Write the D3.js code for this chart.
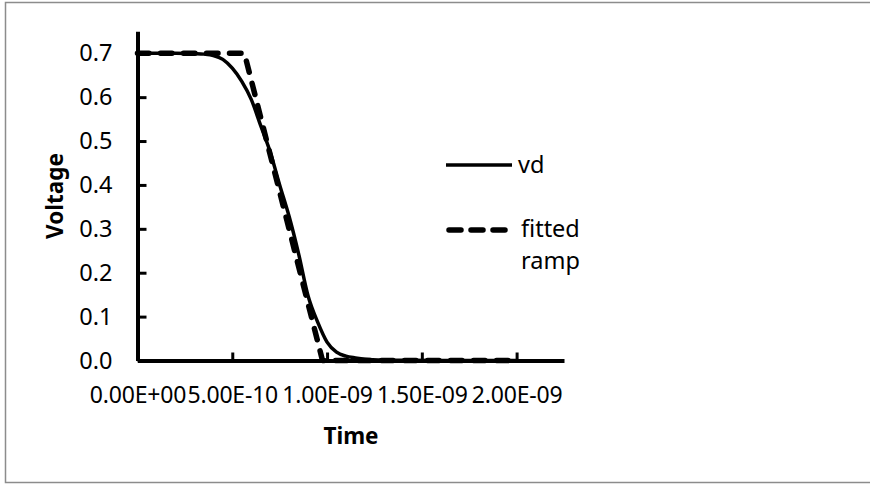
<!DOCTYPE html>
<html><head><meta charset="utf-8">
<script src="https://cdn.jsdelivr.net/npm/d3@7"></script>
<style>
html,body{margin:0;padding:0;background:#fff;}
svg{display:block;}
</style></head>
<body>
<svg id="c" width="870" height="484"></svg>
<script>
// ---- data (time in ns, voltage in V) ----
const vdTime = [0, 0.1, 0.2, 0.3, 0.35, 0.4, 0.45, 0.5, 0.55, 0.6, 0.65, 0.7, 0.75, 0.8, 0.85, 0.9, 0.95, 1.0, 1.05, 1.1, 1.15, 1.2, 1.3, 1.4, 1.6, 1.8, 2.0];
const vdValue = [0.700, 0.700, 0.700, 0.699, 0.698, 0.695, 0.686, 0.666, 0.636, 0.595, 0.535, 0.475, 0.400, 0.328, 0.243, 0.147, 0.088, 0.042, 0.019, 0.010, 0.006, 0.003, 0.001, 0.0005, 0, 0, 0];
const rampTime = [0, 0.564, 0.976, 2.0];
const rampValue = [0.7, 0.7, 0.0, 0.0];
const xTickValues = [0, 0.5, 1.0, 1.5, 2.0];
const xTickLabels = ["0.00E+00", "5.00E-10", "1.00E-09", "1.50E-09", "2.00E-09"];
const yTickValues = [0, 0.1, 0.2, 0.3, 0.4, 0.5, 0.6, 0.7];
const yTickLabels = ["0.0", "0.1", "0.2", "0.3", "0.4", "0.5", "0.6", "0.7"];
const seriesNames = ["vd", "fitted ramp"];

const svg = d3.select("#c");
const FONT = "'Noto Sans', sans-serif";

// outer chart border
svg.append("rect").attr("x", 5.5).attr("y", 2.5).attr("width", 880).attr("height", 480)
  .attr("fill", "#fff").attr("stroke", "#8c8c8c").attr("stroke-width", 1.5);

const x = d3.scaleLinear().domain([0, 2.25]).range([137.5, 564]);
const y = d3.scaleLinear().domain([0, 0.75]).range([360.5, 31.3]);

const gx = svg.append("g").attr("transform", `translate(0,${y(0)})`)
  .call(d3.axisBottom(x).tickValues(xTickValues).tickSizeInner(-8).tickSizeOuter(0).tickPadding(26)
    .tickFormat((d, i) => xTickLabels[i]));
const gy = svg.append("g").attr("transform", `translate(${x(0)},0)`)
  .call(d3.axisLeft(y).tickValues(yTickValues).tickSizeInner(-9).tickSizeOuter(0).tickPadding(25)
    .tickFormat((d, i) => yTickLabels[i]));

[gx, gy].forEach(g => {
  g.select(".domain").attr("stroke", "#000").attr("stroke-width", 4);
  g.selectAll(".tick line").attr("stroke", "#000").attr("stroke-width", 3);
  g.selectAll(".tick text").attr("fill", "#000").style("font-family", FONT).style("font-size", "23.5px");
});
gx.selectAll(".tick text").style("font-size", "23px").attr("letter-spacing", "-0.2px");

const line = d3.line().x(d => x(d[0])).y(d => y(d[1]));

svg.append("path").datum(vdTime.map((t, i) => [t, vdValue[i]]))
  .attr("d", line.curve(d3.curveMonotoneX))
  .attr("fill", "none").attr("stroke", "#000").attr("stroke-width", 3.5);

svg.append("path").datum(rampTime.map((t, i) => [t, rampValue[i]]))
  .attr("d", d3.line().x(d => x(d[0])).y(d => y(d[1])))
  .attr("fill", "none").attr("stroke", "#000").attr("stroke-width", 5.5)
  .attr("stroke-dasharray", "11.5,11.5").attr("stroke-linecap", "round").attr("stroke-linejoin", "round");

// axis titles
svg.append("text").attr("x", 351).attr("y", 444).attr("text-anchor", "middle")
  .style("font-family", FONT).style("font-size", "22.5px").style("font-weight", "bold").text("Time");
svg.append("text").attr("transform", "translate(63,196) rotate(-90)").attr("text-anchor", "middle")
  .style("font-family", FONT).style("font-size", "22.5px").style("font-weight", "bold").text("Voltage");

// legend
const lg = svg.append("g");
lg.append("line").attr("x1", 446).attr("x2", 512).attr("y1", 165).attr("y2", 165)
  .attr("stroke", "#000").attr("stroke-width", 3.5);
lg.append("text").attr("x", 518).attr("y", 173).style("font-family", FONT).style("font-size", "23.5px").text(seriesNames[0]);
lg.append("line").attr("x1", 449).attr("x2", 505).attr("y1", 230).attr("y2", 230)
  .attr("stroke", "#000").attr("stroke-width", 5.5).attr("stroke-dasharray", "12,10").attr("stroke-linecap", "round");
const parts = seriesNames[1].split(" ");
lg.append("text").attr("x", 521).attr("y", 237).style("font-family", FONT).style("font-size", "23.5px").text(parts[0]);
lg.append("text").attr("x", 521).attr("y", 269).style("font-family", FONT).style("font-size", "23.5px").text(parts[1]);
</script>
</body></html>
